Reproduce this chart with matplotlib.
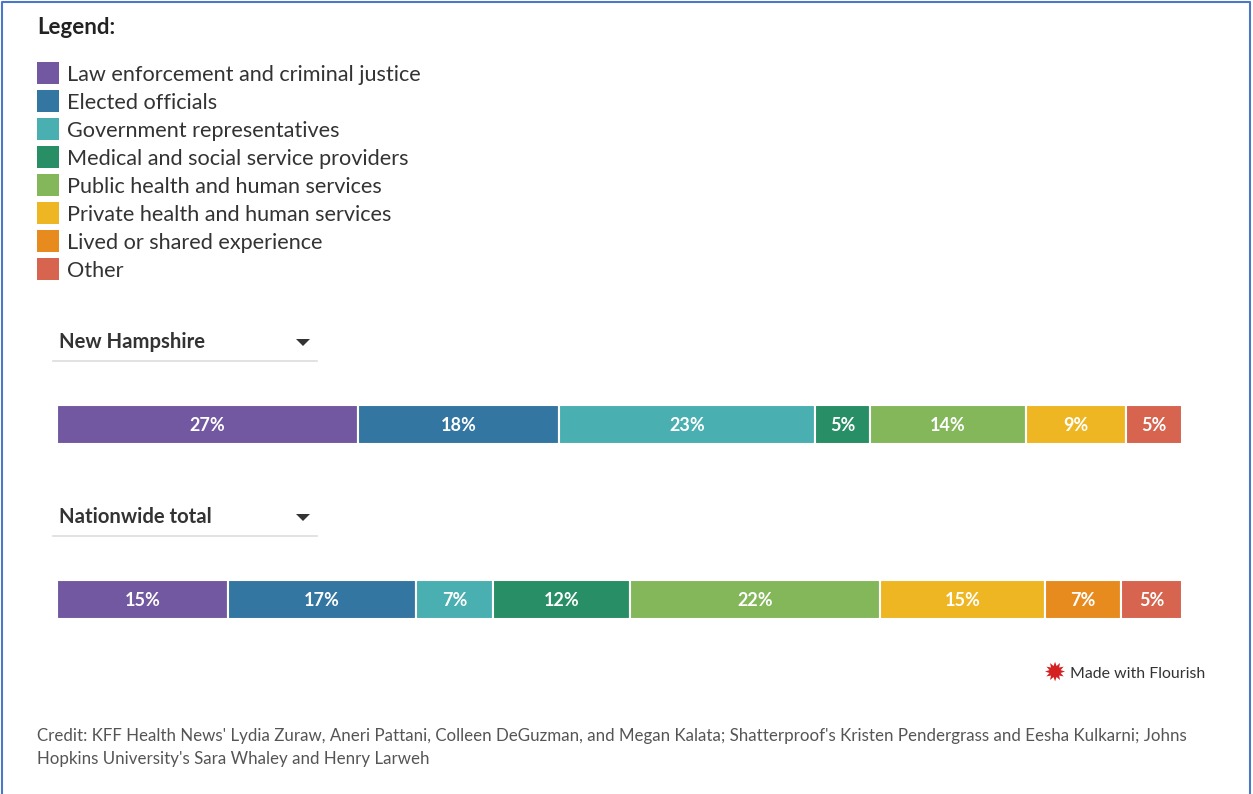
import matplotlib.pyplot as plt
from matplotlib.patches import Rectangle, Polygon

plt.rcParams['font.family'] = ['Lato', 'DejaVu Sans']

categories = ["Law enforcement and criminal justice", "Elected officials",
              "Government representatives", "Medical and social service providers",
              "Public health and human services", "Private health and human services",
              "Lived or shared experience", "Other"]
colors = ["#7258a0", "#3476a2", "#4aafb1", "#278e65", "#83b75a", "#efb624", "#e88b1f", "#d6644f"]

# shares, labels as printed
nh_values = [26.8, 17.9, 22.8, 4.9, 13.9, 8.9, 0.0, 5.0]
nh_labels = ["27%", "18%", "23%", "5%", "14%", "9%", "", "5%"]
nw_values = [15.2, 16.7, 6.8, 12.2, 22.2, 14.6, 6.8, 5.4]
nw_labels = ["15%", "17%", "7%", "12%", "22%", "15%", "7%", "5%"]

W, H = 1253, 794
fig = plt.figure(figsize=(W / 100, H / 100), dpi=100)

def fx(px):
    return px / W

def fy(py):
    return 1 - py / H

# border (left, top, right)
fig.add_artist(plt.Line2D([fx(2), fx(2), fx(1250), fx(1250)], [fy(794), fy(2), fy(2), fy(794)],
                          transform=fig.transFigure, color="#4a78c8", lw=1.5))

# legend
fig.text(fx(37), fy(27), "Legend:", fontsize=16, fontweight="bold", color="#222222", va="center")
for i, (cat, col) in enumerate(zip(categories, colors)):
    cy = 73 + i * 28
    fig.patches.append(Rectangle((fx(37), fy(cy + 11)), fx(22), 22 / H,
                                 transform=fig.transFigure, facecolor=col, edgecolor="none"))
    fig.text(fx(67), fy(cy + 2), cat, fontsize=15.6, color="#333333", va="center")


def dropdown(title, ty):
    fig.text(fx(59), fy(ty), title, fontsize=14.6, fontweight="bold", color="#333333", va="center")
    # little dropdown arrow
    fig.patches.append(Polygon([(fx(296), fy(ty - 3)), (fx(310), fy(ty - 3)), (fx(303), fy(ty + 4))],
                               closed=True, transform=fig.transFigure, facecolor="#333333",
                               edgecolor="none"))
    fig.add_artist(plt.Line2D([fx(53), fx(317)], [fy(ty + 19), fy(ty + 19)],
                              transform=fig.transFigure, color="#dddddd", lw=1.2))


def stacked_bar(top, values, labels):
    ax = fig.add_axes([fx(57), fy(top + 39), fx(1182) - fx(57), 39 / H])
    left = 0
    for v, lab, col in zip(values, labels, colors):
        if v > 0:
            ax.barh(0, v, left=left, height=1, color=col, edgecolor="white", linewidth=1.5)
            ax.text(left + v / 2, -0.03, lab, ha="center", va="center", color="white",
                    fontsize=13, fontweight="bold")
        left += v
    ax.set_xlim(0, sum(values))
    ax.set_ylim(-0.5, 0.5)
    ax.axis("off")


dropdown("New Hampshire", 342)
stacked_bar(405, nh_values, nh_labels)
dropdown("Nationwide total", 517)
stacked_bar(580, nw_values, nw_labels)

# flourish mark
fig.text(fx(1055), fy(674), "\u2739", fontsize=19, color="#d42020", ha="center", va="center",
         family="DejaVu Sans")
fig.text(fx(1070), fy(674), "Made with Flourish", fontsize=11.4, color="#333333", va="center")

# credit
fig.text(fx(37), fy(736), "Credit: KFF Health News' Lydia Zuraw, Aneri Pattani, Colleen DeGuzman, and Megan Kalata; "
         "Shatterproof's Kristen Pendergrass and Eesha Kulkarni; Johns", fontsize=12.2, color="#555555", va="center")
fig.text(fx(37), fy(759), "Hopkins University's Sara Whaley and Henry Larweh", fontsize=12.2,
         color="#555555", va="center")

fig.savefig("out.png", dpi=100)
